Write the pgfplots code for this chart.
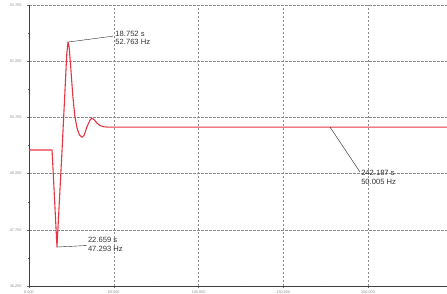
\documentclass[border=0pt]{standalone}
\usepackage{pgfplots}
\pgfplotsset{compat=1.18}
\usepackage{fontspec}
\setmainfont{Liberation Sans}
\definecolor{curve}{RGB}{232,52,64}
\definecolor{gridc}{RGB}{140,140,140}
\begin{document}
\begin{tikzpicture}
\useasboundingbox (-29pt,-7pt) rectangle (418pt,286pt);
\begin{axis}[
  scale only axis, width=418pt, height=281pt,
  at={(0,0)}, anchor=south west,
  xmin=0, xmax=246.6, ymin=46.25, ymax=53.75,
  axis x line*=bottom, axis y line*=left,
  axis line style={black!75, line width=0.5pt, -},
  xtick={0,50,100,150,200}, ytick={46.25,47.75,49.25,50.75,52.25,53.75},
  minor x tick num=1, minor y tick num=1,
  tick style={black!60, line width=0.3pt},
  major tick length=2pt, minor tick length=1.2pt,
  tick align=outside,
  grid=major,
  major grid style={gridc, dash pattern=on 2.5pt off 1.5pt, line width=0.4pt},
  xticklabel style={font=\fontsize{3.8}{4}\selectfont, text=black!45, /pgf/number format/fixed, /pgf/number format/precision=3, /pgf/number format/fixed zerofill},
  yticklabel style={font=\fontsize{3.8}{4}\selectfont, text=black!45, /pgf/number format/fixed, /pgf/number format/precision=3, /pgf/number format/fixed zerofill},
  /pgf/number format/assume math mode=true,
  xticklabel shift=-1pt, yticklabel shift=2pt,
  clip=true,
]
\addplot[curve, line width=1.1pt, line join=round] coordinates {
  (0,49.88) (13.6,49.88) (16.5,47.29) (19.5,49.88) (22.3,52.45) (23.0,52.76)
  (23.7,52.62) (24.6,52.10) (25.8,51.35) (27.0,50.80) (28.4,50.45) (29.8,50.28) (31.3,50.22)
  (32.5,50.27) (34.2,50.50) (36.0,50.68) (37.2,50.73) (38.6,50.68) (40.1,50.60)
  (42.0,50.53) (44.0,50.50) (47,50.49) (246.6,50.49)
};
\draw[black!85, line width=0.4pt] (axis cs:23.0,52.76) -- (axis cs:49.6,52.92);
\node[anchor=west, inner sep=0.5pt, align=left, font=\fontsize{7.6}{8.8}\selectfont, text=black!80] at (axis cs:50.6,52.87) {18.752 s\\52.763 Hz};
\draw[black!85, line width=0.4pt] (axis cs:16.5,47.29) -- (axis cs:34.0,47.33);
\node[anchor=west, inner sep=0.5pt, align=left, font=\fontsize{7.6}{8.8}\selectfont, text=black!80] at (axis cs:34.4,47.36) {22.659 s\\47.293 Hz};
\draw[black!85, line width=0.4pt] (axis cs:177.6,50.49) -- (axis cs:195.3,49.29);
\node[anchor=west, inner sep=0.5pt, align=left, font=\fontsize{7.6}{8.8}\selectfont, text=black!80] at (axis cs:195.6,49.15) {242.187 s\\50.005 Hz};
\end{axis}
\end{tikzpicture}
\end{document}
